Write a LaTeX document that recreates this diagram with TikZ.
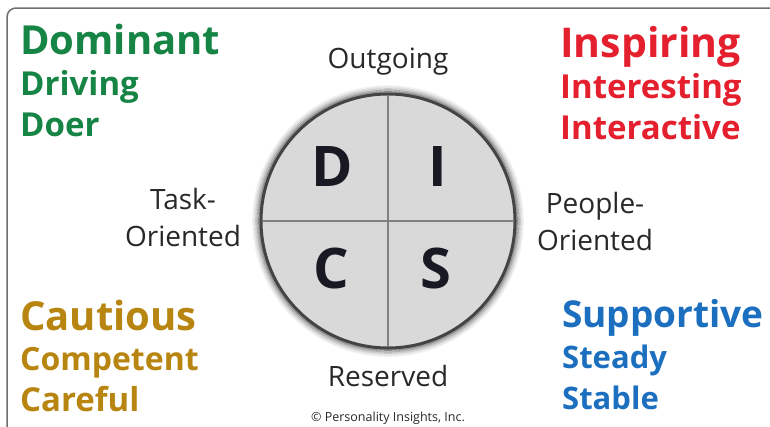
\documentclass[tikz,border=0pt]{standalone}
\usepackage{fontspec}
\setmainfont{Open Sans}
\definecolor{green1}{RGB}{22,132,68}
\definecolor{red1}{RGB}{229,32,46}
\definecolor{gold1}{RGB}{184,134,16}
\definecolor{blue1}{RGB}{28,111,191}
\definecolor{label1}{RGB}{40,40,40}
\definecolor{ink1}{RGB}{25,25,35}
\definecolor{disc1}{RGB}{217,217,217}
\definecolor{edge1}{RGB}{68,68,68}
\definecolor{frame1}{RGB}{110,110,110}
\newcommand{\setsz}[1]{\fontsize{#1}{#1}\selectfont}

\begin{document}
\begin{tikzpicture}[x=1pt, y=-1pt,
  word/.style={anchor=base west, inner sep=0, font=\bfseries},
  side/.style={anchor=base, inner sep=0, text=label1, font=\setsz{28}},
  letter/.style={inner sep=0, text=ink1, font=\bfseries\setsz{56}}]
  \clip (0,0) rectangle (770,426);
  \fill[white] (0,0) rectangle (770,426);
  \draw[frame1, line width=1.5pt, rounded corners=9pt] (7,8) rectangle (800,460);
  \coordinate (c) at (388,221);
  % soft shadow
  \foreach \r/\o in {129/.4,130.5/.28,132/.18,133.5/.1,135/.05}
   \draw[black, opacity=\o, line width=1.6pt] (c) circle [radius=\r];
  \node[circle, fill=disc1, draw=edge1, line width=3pt, outer sep=0, inner sep=0, minimum size=254pt] (disc) at (c) {};
  \draw[gray, line width=1.5pt, shorten <=1.5pt, shorten >=1.5pt] (disc.north) -- (disc.south);
  \draw[gray, line width=1.5pt, shorten <=1.5pt, shorten >=1.5pt] (disc.west) -- (disc.east);
  \node[letter] (d) at (332,167) {D};
  \node[letter] (i) at (438,167) {I};
  \node[letter] (c2) at (331,268) {C};
  \node[letter] (s) at (436,268) {S};

  \node[side] (out) at (388,68) {Outgoing};
  \node[side] (res) at (388,386) {Reserved};
  \node[side] (task) at (183,209) {Task-};
  \node[side] (taskb) at (183,246) {Oriented};
  \node[side] (ppl) at (595,213) {People-};
  \node[side] (pplb) at (595,250) {Oriented};
  \node[anchor=base, inner sep=0, text=label1, font=\setsz{12.5}] (copy) at (388,421) {\textcopyright{} Personality Insights, Inc.};

  \node[word, text=green1, font=\bfseries\setsz{40}] (n1) at (20,54) {Dominant};
  \node[word, text=green1, font=\bfseries\setsz{33}] (n2) at (20,95) {Driving};
  \node[word, text=green1, font=\bfseries\setsz{33}] (n3) at (20,136) {Doer};
  \node[word, text=red1, font=\bfseries\setsz{41}] (n4) at (560,57) {Inspiring};
  \node[word, text=red1, font=\bfseries\setsz{33}] (n5) at (560,98) {Interesting};
  \node[word, text=red1, font=\bfseries\setsz{33}] (n6) at (560,139) {Interactive};
  \node[word, text=gold1, font=\bfseries\setsz{40}] (n7) at (20,330) {Cautious};
  \node[word, text=gold1, font=\bfseries\setsz{32}] (n8) at (20,370) {Competent};
  \node[word, text=gold1, font=\bfseries\setsz{33}] (n9) at (20,411) {Careful};
  \node[word, text=blue1, font=\bfseries\setsz{37}] (n10) at (562,327) {Supportive};
  \node[word, text=blue1, font=\bfseries\setsz{31}] (n11) at (562,368) {Steady};
  \node[word, text=blue1, font=\bfseries\setsz{31}] (n12) at (562,409) {Stable};
\end{tikzpicture}
\end{document}
